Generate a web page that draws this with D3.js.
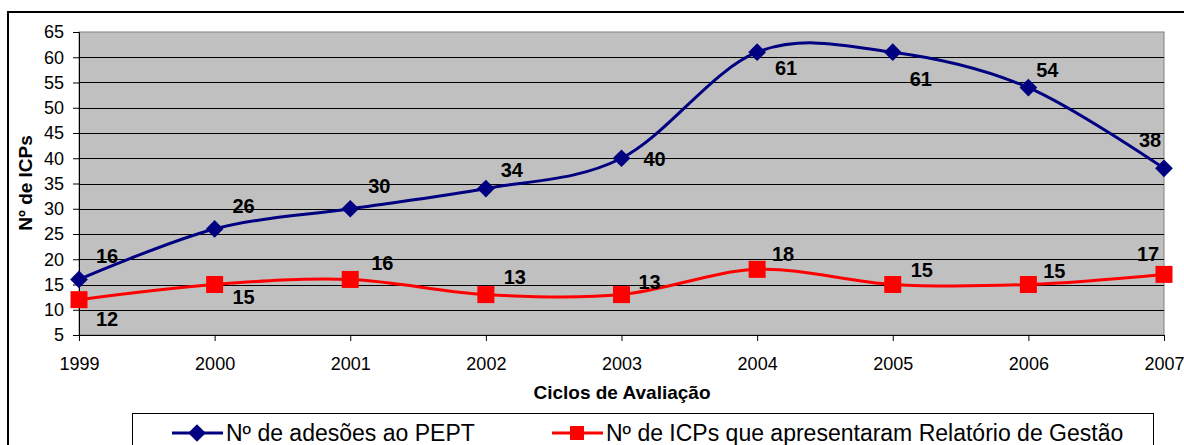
<!DOCTYPE html>
<html>
<head>
<meta charset="utf-8">
<script src="https://cdn.jsdelivr.net/npm/d3@7"></script>
<style>
  body { margin: 0; background: #fff; }
  text { font-family: "Liberation Sans", Arial, sans-serif; }
</style>
</head>
<body>
<svg id="chart" width="1184" height="445"></svg>
<script>
// data
const years = ['1999', '2000', '2001', '2002', '2003', '2004', '2005', '2006', '2007'];
const adesoes = [16, 26, 30, 34, 40, 61, 61, 54, 38];
const relatorios = [12, 15, 16, 13, 13, 18, 15, 15, 17];
const yTicks = [5, 10, 15, 20, 25, 30, 35, 40, 45, 50, 55, 60, 65];
const seriesNames = ['Nº de adesões ao PEPT', 'Nº de ICPs que apresentaram Relatório de Gestão'];

// label offsets (dx, dy) from each point
const blueOffsets = [[28, -23], [29, -23], [29, -23], [26, -19], [33, 1], [29, 16], [28, 27], [19, -18], [-14, -28]];
const redOffsets = [[28, 19], [29, 12], [32, -16], [29, -18], [28, -13], [26, -15], [29, -15], [26, -14], [-16, -20]];

const svg = d3.select('#chart');

// outer frame
svg.append('path')
  .attr('d', 'M8,445 V12 H1184')
  .attr('fill', 'none')
  .attr('stroke', '#000')
  .attr('stroke-width', 2);

const plotLeft = 79, plotRight = 1164, plotTop = 32, plotBottom = 335;

const x = d3.scalePoint().domain(years).range([plotLeft, plotRight]);
const y = d3.scaleLinear().domain([5, 65]).range([plotBottom, plotTop]);

// plot area
svg.append('rect')
  .attr('x', plotLeft)
  .attr('y', plotTop)
  .attr('width', plotRight - plotLeft)
  .attr('height', plotBottom - plotTop)
  .attr('fill', '#c0c0c0')
  .attr('stroke', '#808080')
  .attr('stroke-width', 1);

// gridlines
svg.append('g')
  .selectAll('line')
  .data(yTicks.filter(d => d > 5 && d < 65))
  .join('line')
  .attr('x1', plotLeft)
  .attr('x2', plotRight)
  .attr('y1', d => Math.round(y(d)) + 0.5)
  .attr('y2', d => Math.round(y(d)) + 0.5)
  .attr('stroke', '#000')
  .attr('stroke-width', 1);

// y axis
const yAxis = svg.append('g')
  .attr('transform', `translate(${plotLeft},0)`)
  .call(d3.axisLeft(y).tickValues(yTicks).tickSize(6).tickPadding(9));
yAxis.select('.domain').attr('stroke', '#000');
yAxis.selectAll('text').attr('font-size', 18).attr('fill', '#000')
  .attr('font-family', '"Liberation Sans", Arial, sans-serif');

// x axis
const xAxis = svg.append('g')
  .attr('transform', `translate(0,${plotBottom})`)
  .call(d3.axisBottom(x).tickSize(6).tickPadding(16));
xAxis.select('.domain').attr('stroke', '#000');
xAxis.selectAll('text').attr('font-size', 18).attr('fill', '#000')
  .attr('font-family', '"Liberation Sans", Arial, sans-serif');

// axis titles
svg.append('text')
  .attr('transform', 'translate(32,183) rotate(-90)')
  .attr('text-anchor', 'middle')
  .attr('font-size', 19)
  .attr('font-weight', 'bold')
  .text('Nº de ICPs');

svg.append('text')
  .attr('x', 622)
  .attr('y', 399)
  .attr('text-anchor', 'middle')
  .attr('font-size', 19)
  .attr('font-weight', 'bold')
  .text('Ciclos de Avaliação');

const line = d3.line()
  .x((d, i) => x(years[i]))
  .y(d => y(d))
  .curve(d3.curveCardinal.tension(0));

const diamond = d3.symbol().type(d3.symbolDiamond2).size(200);

const drawSeries = (values, color, shape, offsets) => {
  const g = svg.append('g');
  g.append('path')
    .datum(values)
    .attr('d', line)
    .attr('fill', 'none')
    .attr('stroke', color)
    .attr('stroke-width', 3);
  if (shape === 'diamond') {
    g.selectAll('path.mark')
      .data(values)
      .join('path')
      .attr('class', 'mark')
      .attr('transform', (d, i) => `translate(${x(years[i])},${y(d)})`)
      .attr('d', diamond)
      .attr('fill', color);
  } else {
    g.selectAll('rect.mark')
      .data(values)
      .join('rect')
      .attr('class', 'mark')
      .attr('x', (d, i) => x(years[i]) - 8.5)
      .attr('y', d => y(d) - 8.5)
      .attr('width', 17)
      .attr('height', 17)
      .attr('fill', color);
  }
  g.selectAll('text')
    .data(values)
    .join('text')
    .attr('x', (d, i) => x(years[i]) + offsets[i][0])
    .attr('y', (d, i) => y(d) + offsets[i][1])
    .attr('text-anchor', 'middle')
    .attr('dominant-baseline', 'central')
    .attr('font-size', 20)
    .attr('font-weight', 'bold')
    .text(d => d);
};

drawSeries(adesoes, '#000080', 'diamond', blueOffsets);
drawSeries(relatorios, '#ff0000', 'square', redOffsets);

// legend
svg.append('rect')
  .attr('x', 132.5)
  .attr('y', 413.5)
  .attr('width', 1021)
  .attr('height', 60)
  .attr('fill', '#fff')
  .attr('stroke', '#000')
  .attr('stroke-width', 1);

const legendItems = [
  { name: seriesNames[0], color: '#000080', shape: 'diamond', x: 172 },
  { name: seriesNames[1], color: '#ff0000', shape: 'square', x: 552 }
];

legendItems.forEach(item => {
  const group = svg.append('g')
    .attr('transform', `translate(${item.x}, 433)`);
  group.append('line')
    .attr('x1', 0)
    .attr('x2', 51)
    .attr('y1', 0)
    .attr('y2', 0)
    .attr('stroke', item.color)
    .attr('stroke-width', 3);
  if (item.shape === 'diamond') {
    group.append('path')
      .attr('transform', 'translate(25,0)')
      .attr('d', diamond)
      .attr('fill', item.color);
  } else {
    group.append('rect')
      .attr('x', 18)
      .attr('y', -7)
      .attr('width', 14)
      .attr('height', 14)
      .attr('fill', item.color);
  }
  group.append('text')
    .attr('x', 54)
    .attr('y', 0)
    .attr('dominant-baseline', 'central')
    .attr('font-size', 23)
    .text(item.name);
});
</script>
</body>
</html>
